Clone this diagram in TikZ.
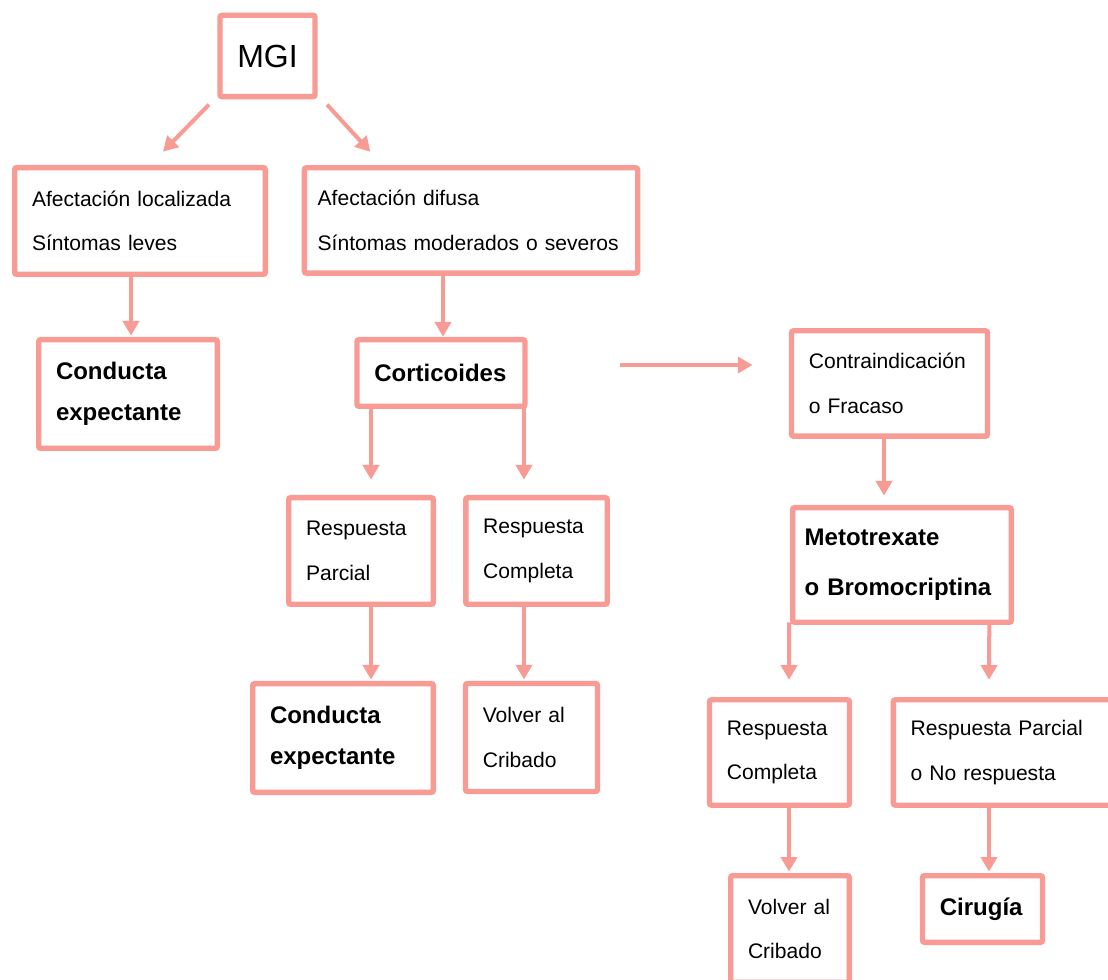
\documentclass[tikz,border=0pt]{standalone}
\usepackage{fontspec}
\setmainfont{Liberation Sans}
\usepackage{tikz}
\usetikzlibrary{arrows.meta}
\definecolor{flowpink}{RGB}{247,155,148}

\begin{document}
\begin{tikzpicture}
[
x=0.75pt, y=-0.75pt,
block/.style={draw=flowpink,line width=4pt,outer sep=0pt,rounded corners=1.5pt,align=left,inner xsep=13pt,
              font=\fontsize{15.8}{33.5}\selectfont},
keyblock/.style={block,font=\fontsize{18}{31}\selectfont\bfseries},
flow/.style={draw=flowpink,line width=3pt,-{Triangle[length=11pt,width=12pt]}},
]
\useasboundingbox (0,0) rectangle (1108,980);
\clip (0,0) rectangle (1108,980);

%Place the nodes
\node[block,minimum width=70pt,minimum height=61pt,align=center,font=\fontsize{24}{28}\selectfont] (mgi) at (267.5,56) {MGI};
\node[block,text width=162pt,minimum height=80pt] (loc) at (140,221) {Afectación localizada\\Síntomas leves};
\node[block,text width=230pt,inner xsep=10pt,minimum height=79pt] (dif) at (471,220.5) {Afectación difusa\\Síntomas moderados o severos};
\node[keyblock,text width=108pt,minimum height=81.5pt] (expA) at (128,394) {Conducta\\expectante};
\node[keyblock,text width=100pt,minimum height=50pt] (cort) at (441,373) {Corticoides};
\node[block,text width=121pt,minimum height=79pt] (contra) at (889.5,383.5) {Contraindicación\\o Fracaso};
\node[block,text width=82.5pt,minimum height=80pt] (parcA) at (361,551) {Respuesta\\Parcial};
\node[block,text width=80pt,minimum height=80pt] (compA) at (536.5,551) {Respuesta\\Completa};
\node[keyblock,text width=146pt,inner xsep=9pt,minimum height=86pt,font=\fontsize{18}{37.5}\selectfont\bfseries] (meto) at (902,565) {Metotrexate\\o Bromocriptina};
\node[keyblock,text width=109.5pt,minimum height=81.5pt] (expB) at (343,738) {Conducta\\expectante};
\node[block,text width=73pt,minimum height=81pt] (cribA) at (531.5,737.5) {Volver al\\Cribado};
\node[block,text width=79pt,minimum height=79pt] (compB) at (779.5,752.5) {Respuesta\\Completa};
\node[block,text width=140pt,minimum height=79pt] (parcB) at (1004,752.5) {Respuesta Parcial\\o No respuesta};
\node[block,text width=63pt,minimum height=80pt] (cribB) at (790,929) {Volver al\\Cribado};
\node[keyblock,text width=64pt,minimum height=50pt] (cir) at (982.5,909) {Cirugía};

%Draw the connections
\draw[flow] ([shift={(-11,8)}]mgi.south west) -- ([shift={(23,-16)}]loc.north);
\draw[flow] ([shift={(12,8)}]mgi.south east) -- ([shift={(66,-16)}]dif.north west);
\draw[flow] ([shift={(-28,0)}]dif.south) -- ([shift={(2,-3)}]cort.north);
\draw[flow] ([shift={(-9,0)}]loc.south) -- ([shift={(3,-4)}]expA.north);
\draw[flow] ([shift={(95,-8)}]cort.east) -- ([shift={(-39,-18.5)}]contra.west);
\draw[flow] ([shift={(14,0)}]cort.south west) -- ([shift={(10,-18)}]parcA.north);
\draw[flow] ([shift={(-1,0)}]cort.south east) -- ([shift={(-12.5,-18)}]compA.north);
\draw[flow] ([shift={(-5.5,0)}]contra.south) -- ([shift={(-18,-12)}]meto.north);
\draw[flow] ([shift={(10,0)}]parcA.south) -- ([shift={(28,-4)}]expB.north);
\draw[flow] ([shift={(-12.5,0)}]compA.south) -- ([shift={(-7.5,-4)}]cribA.north);
\draw[flow] ([shift={(-3.5,0)}]meto.south west) -- ([shift={(9.5,-20)}]compB.north);
\draw[flow] ([shift={(-22,-2)}]meto.south east) -- ([shift={(-15,-20)}]parcB.north);
\draw[flow] ([shift={(9.5,0)}]compB.south) -- ([shift={(-1,-4)}]cribB.north);
\draw[flow] ([shift={(-15,0)}]parcB.south) -- ([shift={(6.5,-4)}]cir.north);
\end{tikzpicture}
\end{document}
